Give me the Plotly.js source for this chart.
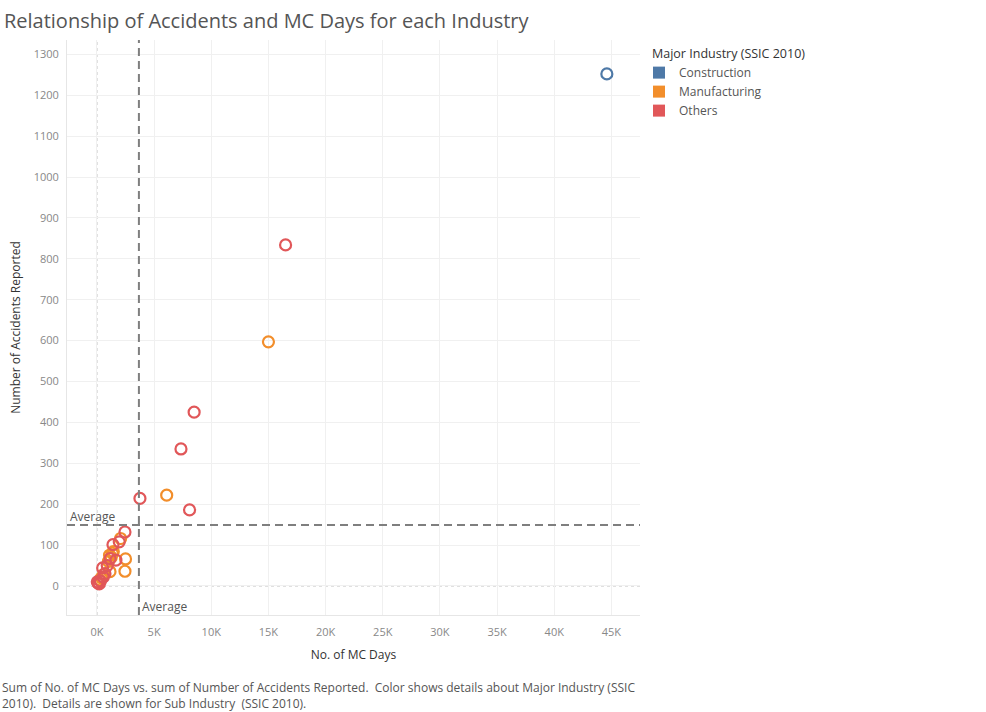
<!DOCTYPE html>
<html>
<head>
<meta charset="utf-8">
<script src="https://cdn.plot.ly/plotly-3.0.1.min.js"></script>
<style>
html,body{margin:0;padding:0;background:#fff;}
#chart{width:986px;height:712px;}
</style>
</head>
<body>
<div id="chart"></div>
<script>
// ---- Data ----
var industries = ["Construction", "Manufacturing", "Others"];
var industryColors = ["#4e79a7", "#f28e2b", "#e15759"];
var legendTitle = "Major Industry (SSIC 2010)";

var constructionMC = [44600];
var constructionAcc = [1252];

var manufacturingMC = [15000, 6100, 2070, 1430, 1100, 1250, 1350, 2500, 2450, 1140, 400, 260, 600, 1000];
var manufacturingAcc = [597, 222, 116, 84, 75, 70, 80, 66, 36, 35, 20, 15, 28, 60];

var othersMC = [16500, 8500, 7350, 3760, 8100, 2450, 1950, 1400, 1660, 1150, 500, 700, 100, 30, 200, 900, 550, 300];
var othersAcc = [834, 425, 335, 214, 186, 132, 108, 101, 63, 67, 44, 30, 7, 10, 5, 50, 22, 12];

var avgMCDays = 3670;
var avgAccidents = 149;

var xTickVals = [0, 5000, 10000, 15000, 20000, 25000, 30000, 35000, 40000, 45000];
var xTickText = ["0K", "5K", "10K", "15K", "20K", "25K", "30K", "35K", "40K", "45K"];
var yTickVals = [0, 100, 200, 300, 400, 500, 600, 700, 800, 900, 1000, 1100, 1200, 1300];

// ---- Build traces ----
var seriesX = [constructionMC, manufacturingMC, othersMC];
var seriesY = [constructionAcc, manufacturingAcc, othersAcc];
var traces = [];
for (var i = 0; i < industries.length; i++) {
  traces.push({
    type: "scatter", mode: "markers", name: industries[i],
    x: seriesX[i], y: seriesY[i], showlegend: false,
    marker: {symbol: "circle", size: 11, color: "rgba(255,255,255,0)",
             line: {color: industryColors[i], width: 2.2}},
    hoverinfo: "x+y+name"
  });
}
// legend swatches (squares)
for (var j = 0; j < industries.length; j++) {
  traces.push({
    type: "scatter", mode: "markers", name: industries[j],
    x: [null], y: [null], showlegend: true,
    marker: {symbol: "square", size: 15, color: industryColors[j]}
  });
}

var font = "'Open Sans', Lato, 'Noto Sans', sans-serif";
var grey = "#7f7f7f";

var layout = {
  width: 986, height: 712,
  margin: {l: 67, r: 346, t: 40, b: 97},
  paper_bgcolor: "#fff", plot_bgcolor: "#fff",
  font: {family: font, size: 11, color: "#666"},
  title: {text: "Relationship of Accidents and MC Days for each Industry",
          font: {family: font, size: 20, color: "#555"},
          xref: "container", yref: "container", x: 0.004, xanchor: "left",
          y: 0.971, yanchor: "middle"},
  xaxis: {range: [-2620, 47500], tickvals: xTickVals, ticktext: xTickText,
          showgrid: true, gridcolor: "#f0f0f0", zeroline: false,
          showline: true, linecolor: "#e6e6e6", linewidth: 1,
          ticks: "", ticklabelstandoff: 7, tickfont: {size: 11, color: "#888"},
          title: {text: "No. of MC Days", font: {size: 12, color: "#333"}, standoff: 12}},
  yaxis: {range: [-71, 1335], tickvals: yTickVals,
          showgrid: true, gridcolor: "#f0f0f0", zeroline: false,
          showline: true, linecolor: "#e6e6e6", linewidth: 1,
          ticks: "", ticklabelstandoff: 5, tickfont: {size: 11, color: "#888"},
          title: {text: "Number of Accidents Reported", font: {size: 12, color: "#333"}, standoff: 10}},
  legend: {x: 0.9983, xanchor: "left", y: 0.9685, yanchor: "top",
           font: {size: 12, color: "#555"}, tracegroupgap: 0, itemsizing: "constant",
           bgcolor: "rgba(0,0,0,0)"},
  shapes: [
    {type: "line", xref: "x", yref: "paper", x0: 0, x1: 0, y0: 0, y1: 1,
     line: {color: "#bbbbbb", width: 1, dash: "dot"}, layer: "below"},
    {type: "line", xref: "paper", yref: "y", x0: 0, x1: 1, y0: 0, y1: 0,
     line: {color: "#bbbbbb", width: 1, dash: "dot"}, layer: "below"},
    {type: "line", xref: "x", yref: "paper", x0: avgMCDays, x1: avgMCDays, y0: 0, y1: 1,
     line: {color: grey, width: 2, dash: "8px,5px"}},
    {type: "line", xref: "paper", yref: "y", x0: 0, x1: 1, y0: avgAccidents, y1: avgAccidents,
     line: {color: grey, width: 2, dash: "8px,5px"}}
  ],
  annotations: [
    {text: legendTitle, xref: "paper", yref: "paper", x: 1.0175, y: 0.977, xanchor: "left", yanchor: "middle",
     showarrow: false, font: {size: 12.5, color: "#333"}},
    {text: "Average", xref: "paper", yref: "y", x: 0, y: avgAccidents, xanchor: "left", yanchor: "bottom",
     xshift: 1, yshift: -2, showarrow: false, font: {size: 12, color: "#555"}},
    {text: "Average", xref: "x", yref: "paper", x: avgMCDays, y: 0, xanchor: "left", yanchor: "bottom",
     xshift: 1, yshift: -2, showarrow: false, font: {size: 12, color: "#555"}},
    {text: "Sum of No. of MC Days vs. sum of Number of Accidents Reported.  Color shows details about Major Industry (SSIC<br>2010).  Details are shown for Sub Industry  (SSIC 2010).",
     xref: "paper", yref: "paper", x: 0, y: 0, xanchor: "left", yanchor: "top", align: "left",
     xshift: -67, yshift: -62, showarrow: false, font: {size: 12, color: "#555"}}
  ],
  showlegend: true
};

Plotly.newPlot("chart", traces, layout, {displayModeBar: false, responsive: false});
</script>
</body>
</html>
